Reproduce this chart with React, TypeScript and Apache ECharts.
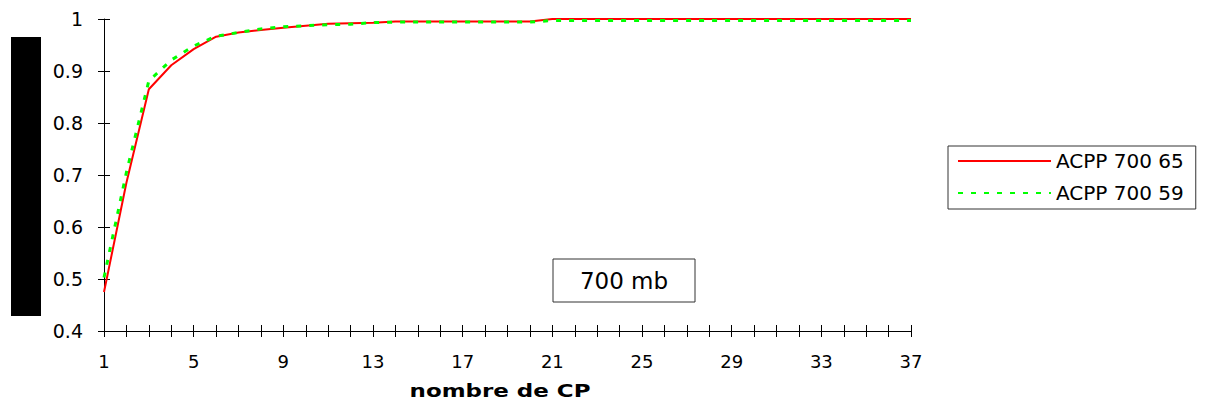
import React, { useEffect, useRef } from "react";
import * as echarts from "echarts";

const categories = Array.from({ length: 37 }, (_, i) => String(i + 1));
const seriesNames = ["ACPP 700 65", "ACPP 700 59"];
const acpp65 = [
  0.475, 0.685, 0.865, 0.911, 0.942, 0.966, 0.974, 0.979, 0.983, 0.987, 0.991, 0.992, 0.993,
  0.995, 0.995, 0.995, 0.995, 0.995, 0.995, 0.995,
  1, 1, 1, 1, 1, 1, 1, 1, 1, 1, 1, 1, 1, 1, 1, 1, 1,
];
const acpp59 = [
  0.503, 0.705, 0.881, 0.921, 0.948, 0.967, 0.974, 0.981, 0.985, 0.987, 0.989, 0.99, 0.993,
  0.994, 0.994, 0.994, 0.994, 0.994, 0.994, 0.994,
  0.997, 0.997, 0.997, 0.997, 0.997, 0.997, 0.997, 0.997, 0.997, 0.997, 0.997, 0.997, 0.997,
  0.997, 0.997, 0.997, 0.997,
];
const xTitle = "nombre de CP";
const boxLabel = "700 mb";
const FONT = "'DejaVu Sans', sans-serif";

export default function App() {
  const ref = useRef<HTMLDivElement>(null);
  useEffect(() => {
    if (!ref.current) return;
    const chart = echarts.init(ref.current, undefined, { renderer: "svg" });
    const axisLine = { show: true, lineStyle: { color: "#000", width: 1 } };
    chart.setOption({
      animation: false,
      backgroundColor: "#fff",
      textStyle: { fontFamily: FONT },
      grid: { left: 104, top: 19, width: 807, height: 312, containLabel: false },
      xAxis: [
        {
          type: "category",
          data: categories,
          boundaryGap: false,
          position: "bottom",
          axisLine,
          axisTick: { show: true, inside: false, length: 6, interval: 0, lineStyle: { color: "#000" } },
          axisLabel: { interval: 3, margin: 21, fontSize: 18, color: "#000", fontFamily: FONT },
          splitLine: { show: false },
        },
        {
          type: "category",
          data: categories,
          boundaryGap: false,
          position: "bottom",
          axisLine: { show: false },
          axisTick: { show: true, inside: true, length: 6, interval: 0, lineStyle: { color: "#000" } },
          axisLabel: { show: false },
          splitLine: { show: false },
        },
      ],
      yAxis: [
        {
          type: "value",
          min: 0.4,
          max: 1,
          interval: 0.1,
          position: "left",
          axisLine,
          axisTick: { show: true, inside: false, length: 6, lineStyle: { color: "#000" } },
          axisLabel: {
            margin: 21,
            fontSize: 19,
            color: "#000",
            fontFamily: FONT,
            formatter: (v: number) => String(Math.round(v * 10) / 10),
          },
          splitLine: { show: false },
        },
        {
          type: "value",
          min: 0.4,
          max: 1,
          interval: 0.1,
          position: "left",
          axisLine: { show: false },
          axisTick: { show: true, inside: true, length: 6, lineStyle: { color: "#000" } },
          axisLabel: { show: false },
          splitLine: { show: false },
        },
      ],
      legend: {
        orient: "vertical",
        left: 948,
        top: 146,
        borderColor: "#333",
        borderWidth: 1,
        padding: [5, 12, 6, 9],
        itemWidth: 93,
        itemHeight: 20,
        itemGap: 12,
        itemStyle: { opacity: 0 },
        textStyle: { fontSize: 20, color: "#000", fontFamily: FONT },
        data: seriesNames,
      },
      series: [
        {
          name: seriesNames[0],
          type: "line",
          data: acpp65,
          xAxisIndex: 0,
          yAxisIndex: 0,
          symbol: "none",
          lineStyle: { color: "#ff0000", width: 2 },
          itemStyle: { color: "#ff0000" },
        },
        {
          name: seriesNames[1],
          type: "line",
          data: acpp59,
          xAxisIndex: 0,
          yAxisIndex: 0,
          symbol: "none",
          lineStyle: { color: "#00ff00", width: 3, type: [5, 8] },
          itemStyle: { color: "#00ff00" },
        },
      ],
      graphic: [
        { type: "rect", shape: { x: 11, y: 37, width: 30, height: 279 }, style: { fill: "#000" } },
        {
          type: "rect",
          shape: { x: 553, y: 259, width: 142, height: 43 },
          style: { fill: "#fff", stroke: "#333", lineWidth: 1 },
          z: 10,
        },
        {
          type: "text",
          x: 624,
          y: 281,
          z: 11,
          style: {
            text: boxLabel,
            fontSize: 23,
            fontFamily: FONT,
            fill: "#000",
            align: "center",
            verticalAlign: "middle",
          },
        },
        {
          type: "text",
          x: 500,
          y: 391,
          scaleX: 1.35,
          style: {
            text: xTitle,
            fontSize: 17,
            fontWeight: "bold",
            fontFamily: FONT,
            fill: "#000",
            align: "center",
            verticalAlign: "middle",
          },
        },
      ],
    });
    return () => chart.dispose();
  }, []);
  return (
    <div
      ref={ref}
      style={{ position: "fixed", left: 0, top: 0, width: 1214, height: 410 }}
    />
  );
}
